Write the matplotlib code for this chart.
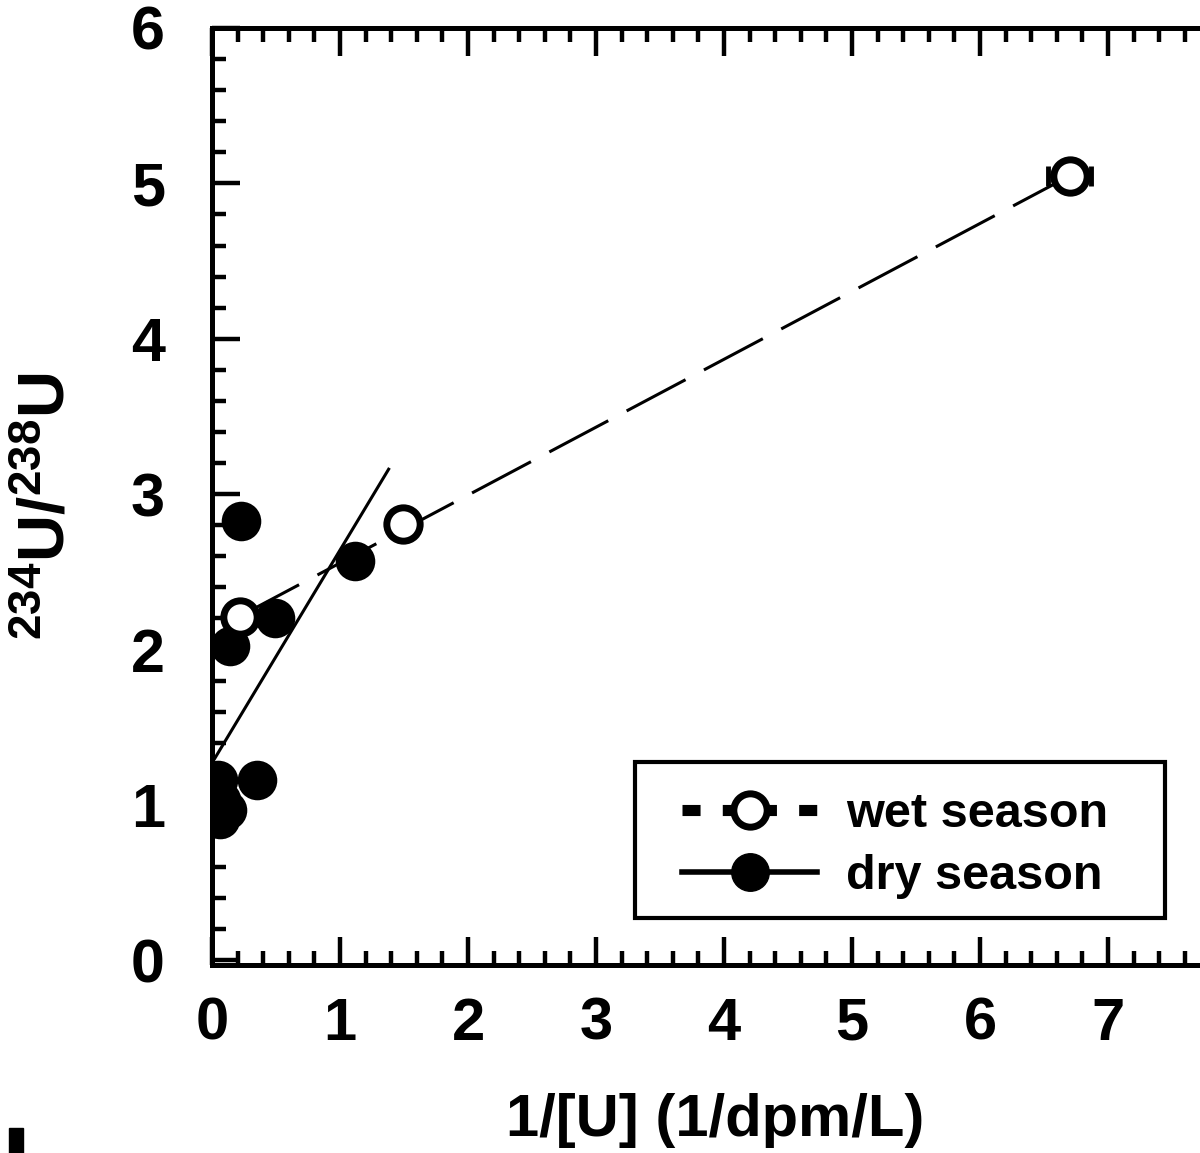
import matplotlib
matplotlib.use("Agg")
import matplotlib.pyplot as plt
from matplotlib.lines import Line2D
from matplotlib.patches import Rectangle
from matplotlib.ticker import MultipleLocator
import numpy as np

plt.rcParams["font.family"] = ["Liberation Sans", "DejaVu Sans"]
plt.rcParams["font.weight"] = "bold"
plt.rcParams["mathtext.fontset"] = "custom"
plt.rcParams["mathtext.bf"] = "Liberation Sans:bold"
plt.rcParams["mathtext.rm"] = "Liberation Sans:bold"
plt.rcParams["mathtext.default"] = "bf"

# wet season samples
wet_x = [0.22, 1.49, 6.70]
wet_y = [2.21, 2.81, 5.05]
wet_xerr = [0.0, 0.0, 0.17]

# dry season samples
dry_x = [0.23, 1.12, 0.49, 0.14, 0.05, 0.35, 0.07, 0.12, 0.06]
dry_y = [2.83, 2.57, 2.20, 2.02, 1.16, 1.16, 1.03, 0.97, 0.91]

# linear mixing lines (intercept, slope, x range)
wet_fit = (2.12, 0.437, [0.22, 6.70])
dry_fit = (1.27, 1.37, [0.02, 1.38])

xticks = [0, 1, 2, 3, 4, 5, 6, 7]
yticks = [0, 1, 2, 3, 4, 5, 6]

W, H = 1200, 1153
fig = plt.figure(figsize=(W / 100, H / 100), dpi=100)
ax = fig.add_axes([212 / W, (H - 965) / H, 1024 / W, 937 / H])

# fit lines
fx = np.array(wet_fit[2])
ax.plot(fx, wet_fit[0] + wet_fit[1] * fx, color="k", lw=2.2,
        dashes=(48 / 2.2, 15 / 2.2), zorder=2)
fx = np.array(dry_fit[2])
ax.plot(fx, dry_fit[0] + dry_fit[1] * fx, color="k", lw=2.2, zorder=2)

# points
ax.errorbar(wet_x, wet_y, xerr=wet_xerr, fmt="none", ecolor="k",
            elinewidth=3, capsize=7, capthick=3.5, zorder=3)
ax.plot(dry_x, dry_y, "o", ms=28.5, color="k", mec="k", mew=0, zorder=4)
ax.plot(wet_x, wet_y, "o", ms=24, mfc="w", mec="k", mew=5, zorder=5)

ax.set_xlim(0, 8)
ax.set_ylim(-0.03, 6.0)
ax.set_xticks(xticks)
ax.set_yticks(yticks)
ax.xaxis.set_minor_locator(MultipleLocator(0.2))
ax.yaxis.set_minor_locator(MultipleLocator(0.2))

for s in ax.spines.values():
    s.set_linewidth(3.6)
ax.tick_params(which="both", direction="in", top=True, right=True, width=3.2)
ax.tick_params(which="major", length=20)
ax.tick_params(which="minor", length=10)
ax.tick_params(axis="x", which="major", labelsize=43, pad=23)
ax.tick_params(axis="y", which="major", labelsize=44, pad=34)
for lab in ax.get_xticklabels() + ax.get_yticklabels():
    lab.set_fontweight("bold")

ax.set_xlabel("1/[U] (1/dpm/L)", fontsize=43, fontweight="bold")
ax.xaxis.set_label_coords(0.491, -0.1366)
ax.set_ylabel(r"${}^{234}U/{}^{238}U$", fontsize=47)
ax.yaxis.set_label_coords(-0.131, 0.489)

# legend box drawn separately
ax.add_patch(Rectangle((0.413, 0.050), 0.518, 0.1666, transform=ax.transAxes,
                       facecolor="w", edgecolor="k", lw=3, zorder=10,
                       clip_on=False))
h_wet = Line2D([], [], color="k", lw=8,
               dashes=(13 / 8, 16 / 8, 39 / 8, 16 / 8),
               marker="o", ms=24, mfc="w", mec="k", mew=5)
h_dry = Line2D([], [], color="k", lw=4, marker="o", ms=27, mfc="k", mec="k")
leg = ax.legend([h_wet, h_dry], ["wet season", "dry season"],
                loc="center left", bbox_to_anchor=(0.459, 0.1275),
                frameon=False, borderpad=0, borderaxespad=0,
                handlelength=2.78, handletextpad=0.6, labelspacing=0.35,
                prop={"size": 35, "weight": "bold"})
leg.set_zorder(11)

# fragment of a cropped glyph at lower left
fig.patches.append(Rectangle((9 / W, 0), 14 / W, 25 / H,
                             transform=fig.transFigure, color="k"))

fig.savefig("out.png", dpi=100)
